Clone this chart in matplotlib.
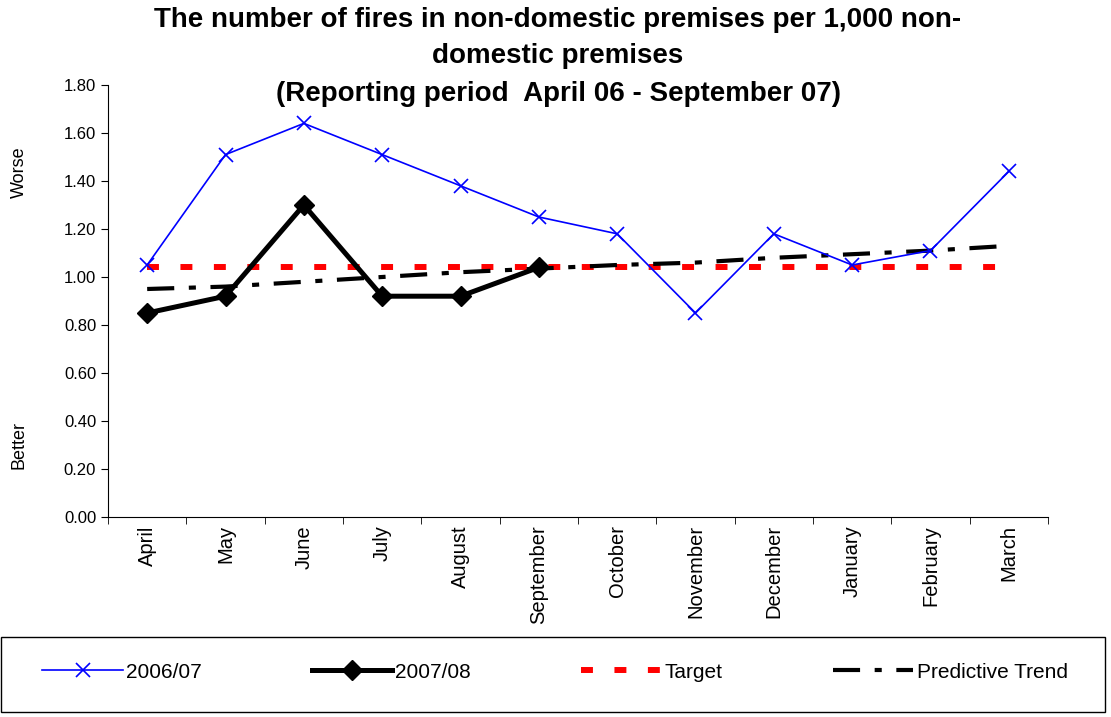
import matplotlib
matplotlib.use("Agg")
import matplotlib.pyplot as plt
from matplotlib.patches import Rectangle
import numpy as np

plt.rcParams['font.family'] = ['Liberation Sans', 'DejaVu Sans']

months = ['April', 'May', 'June', 'July', 'August', 'September', 'October',
          'November', 'December', 'January', 'February', 'March']
fires_0607 = [1.05, 1.51, 1.64, 1.51, 1.38, 1.25, 1.18, 0.85, 1.18, 1.05, 1.11, 1.44]
fires_0708 = [0.85, 0.92, 1.30, 0.92, 0.92, 1.04]
target = [1.04] * 12
trend = [0.95, 0.96, 0.98, 1.00, 1.02, 1.035, 1.05, 1.06, 1.08, 1.095, 1.11, 1.13]
title_lines = ['The number of fires in non-domestic premises per 1,000 non-',
               'domestic premises',
               '(Reporting period  April 06 - September 07)']

W, H = 1111, 717
fig = plt.figure(figsize=(W / 100, H / 100), dpi=100)
ax = fig.add_axes([108 / W, 1 - 517 / H, 940 / W, 432 / H])

x = np.arange(len(months))
ax.plot(x, target, color='#ff0000', lw=4.3, dashes=(2, 3.6), label='Target', zorder=2)
ax.plot(x, trend, color='black', lw=3, dashes=(6.5, 3.5, 1.7, 3.5),
        label='Predictive Trend', zorder=2)
ax.plot(x, fires_0607, color='#0000ff', lw=1.2, marker='x', ms=9.5, mew=1.2,
        label='2006/07', zorder=3)
ax.plot(x[:len(fires_0708)], fires_0708, color='black', lw=3.6, marker='D', ms=10,
        label='2007/08', zorder=4)

ax.set_xlim(-0.5, 11.5)
ax.set_ylim(0, 1.8)
yt = np.arange(0, 1.81, 0.2)
ax.set_yticks(yt)
ax.set_yticklabels(['%.2f' % v for v in yt], fontsize=12)
ax.set_xticks(x)
ax.set_xticklabels(months, rotation=90, fontsize=14.5)
ax.set_xticks(np.arange(-0.5, 12, 1), minor=True)
ax.tick_params(axis='x', which='major', length=0, pad=6)
ax.tick_params(axis='x', which='minor', length=5, direction='out')
ax.tick_params(axis='y', length=5, direction='out')
for s in ['top', 'right']:
    ax.spines[s].set_visible(False)

# title, one line at a time
for yy, line in zip([20, 56, 94], title_lines):
    fig.text(558 / W, 1 - yy / H, line, ha='center', va='center',
             fontsize=20, fontweight='bold')

fig.text(19 / W, 1 - 172 / H, 'Worse', rotation=90, ha='center', va='center', fontsize=13)
fig.text(19 / W, 1 - 445 / H, 'Better', rotation=90, ha='center', va='center', fontsize=13)

# legend with a plain box round it
h, l = ax.get_legend_handles_labels()
order = [2, 3, 0, 1]
leg = fig.legend([h[i] for i in order], [l[i] for i in order], ncol=4,
                 loc='center', bbox_to_anchor=(555 / W, 1 - 672 / H),
                 fontsize=15, handlelength=3.85, handletextpad=0.15,
                 columnspacing=5.3, frameon=False)
fig.patches.append(Rectangle((1 / W, 1 - 712 / H), 1104 / W, 75 / H,
                             transform=fig.transFigure, fill=False,
                             edgecolor='black', lw=1.0))

fig.savefig('out.png', dpi=100)
